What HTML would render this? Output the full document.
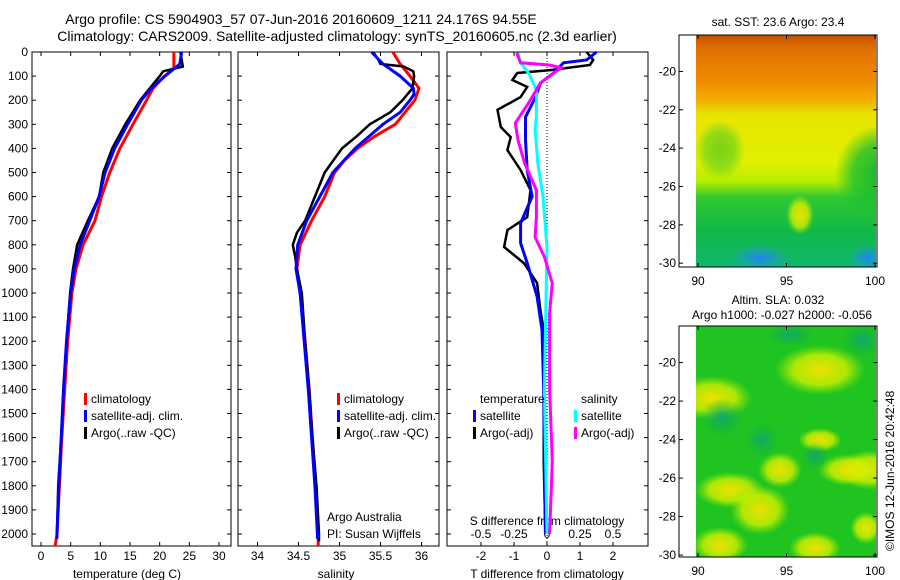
<!DOCTYPE html>
<html><head><meta charset="utf-8"><style>
body{margin:0;background:#fff;}
#root{position:relative;width:900px;height:580px;overflow:hidden;font-family:"Liberation Sans",sans-serif;}
svg text{font-family:"Liberation Sans",sans-serif;}
</style></head><body>
<div id="root">
<svg id="svg" width="900" height="580" xmlns="http://www.w3.org/2000/svg">
<defs>
<clipPath id="clip1"><rect x="696" y="35" width="180" height="232"/></clipPath>
<clipPath id="clip2"><rect x="696" y="326" width="180" height="231"/></clipPath>
<linearGradient id="sstV" x1="0" y1="0" x2="0" y2="1">
<stop offset="0" stop-color="#c85000"/><stop offset="0.06" stop-color="#e07000"/>
<stop offset="0.20" stop-color="#f08c00"/><stop offset="0.28" stop-color="#f2ac00"/>
<stop offset="0.34" stop-color="#e8e400"/><stop offset="0.55" stop-color="#e0f000"/>
<stop offset="0.63" stop-color="#b8ee00"/><stop offset="0.70" stop-color="#30c830"/>
<stop offset="0.85" stop-color="#10b848"/><stop offset="1" stop-color="#10b870"/>
</linearGradient>
<radialGradient id="grn" cx="0.5" cy="0.5" r="0.5"><stop offset="0" stop-color="#10b830"/><stop offset="0.6" stop-color="#20c030" stop-opacity="0.8"/><stop offset="1" stop-color="#20c030" stop-opacity="0"/></radialGradient>
<radialGradient id="blu" cx="0.5" cy="0.5" r="0.5"><stop offset="0" stop-color="#2080f0"/><stop offset="1" stop-color="#20a0e0" stop-opacity="0"/></radialGradient>
<radialGradient id="yel" cx="0.5" cy="0.5" r="0.5"><stop offset="0" stop-color="#f0e000"/><stop offset="0.6" stop-color="#d0f000" stop-opacity="0.8"/><stop offset="1" stop-color="#a0e800" stop-opacity="0"/></radialGradient>
<radialGradient id="dkg" cx="0.5" cy="0.5" r="0.5"><stop offset="0" stop-color="#10a870"/><stop offset="1" stop-color="#10b040" stop-opacity="0"/></radialGradient>
</defs>
<g id="maps"></g>
<g id="plots"></g>
</svg>
</div>
<script>
// ---------- data ----------
const depthTicks=[0,100,200,300,400,500,600,700,800,900,1000,1100,1200,1300,1400,1500,1600,1700,1800,1900,2000];
const tTicks=[0,5,10,15,20,25,30];
const sTicks=[34,34.5,35,35.5,36];
const dTTicks=[-2,-1,0,1,2];
const dSTicks=[-0.5,-0.25,0,0.25,0.5];
const dSTickLabels=['-0.5','-0.25','0','0.25','0.5'];
const latTicks=[-20,-22,-24,-26,-28,-30];
const lonTicks=[90,95,100];

const tClimDepth=[0,70,100,150,200,300,400,500,600,700,800,900,1000,1200,1400,1600,1800,2000,2050];
const tClim=[22.4,22.4,20.8,18.9,17.8,15.5,13.3,11.6,10.2,9.1,7.1,5.9,5.2,4.5,4.0,3.5,3.1,2.7,2.4];
const tSatDepth=[0,50,100,150,200,300,400,500,600,700,800,900,1000,1200,1400,1600,1800,2000,2020];
const tSat=[23.7,23.4,20.9,18.6,16.9,14.6,12.4,10.8,9.8,8.2,6.6,5.6,5.0,4.3,3.8,3.4,3.0,2.7,2.7];
const tArgoDepth=[0,60,80,100,200,300,400,500,600,700,800,900,1000,1200,1400,1600,1800,2000];
const tArgo=[23.5,23.9,20.6,20.0,16.7,14.2,12.0,10.5,9.8,7.9,6.1,5.4,4.9,4.3,3.8,3.4,2.9,2.7];

const sClimDepth=[0,50,100,150,200,250,300,350,400,450,500,600,700,800,900,1000,1200,1400,1600,1800,2000,2050];
const sClim=[35.65,35.74,35.86,35.97,35.92,35.8,35.68,35.43,35.22,35.06,34.94,34.82,34.66,34.52,34.48,34.52,34.58,34.63,34.67,34.71,34.74,34.74];
const sSatDepth=[0,50,100,150,175,200,250,300,400,500,600,700,800,900,1000,1200,1400,1600,1800,2000,2020];
const sSat=[35.39,35.53,35.74,35.9,35.91,35.86,35.74,35.53,35.19,34.92,34.76,34.6,34.49,34.47,34.52,34.57,34.62,34.66,34.70,34.73,34.73];
const sArgoDepth=[0,30,50,60,80,100,150,200,250,300,350,400,500,600,700,750,800,850,900,1000,1200,1400,1600,1800,2000,2030];
const sArgo=[35.41,35.47,35.5,35.78,35.9,35.91,35.89,35.77,35.62,35.37,35.21,35.03,34.82,34.7,34.58,34.48,34.43,34.46,34.48,34.54,34.58,34.63,34.67,34.72,34.75,34.75];

const dTArgoDepth=[0,33,54,75,87,116,145,187,240,311,353,407,490,573,685,739,809,876,959,1071,1153,1400,1700,2000];
const dTArgo=[1.2,1.4,1.3,0.1,-0.9,-1.05,-0.6,-0.8,-1.5,-1.4,-1.1,-1.2,-0.8,-0.5,-0.6,-1.2,-1.3,-0.7,-0.3,-0.2,-0.1,-0.1,-0.1,-0.05];
const dTSatDepth=[0,33,45,87,129,187,270,365,490,600,710,793,876,1015,1153,1400,1700,2000];
const dTSat=[1.5,1.2,0.5,0.2,-0.2,-0.35,-0.65,-0.65,-0.6,-0.45,-0.8,-0.8,-0.6,-0.3,-0.15,-0.1,-0.08,-0.05];
const dSArgoDepth=[4,45,54,66,87,129,212,295,365,461,573,685,768,850,959,1083,1400,1700,2000];
const dSArgo=[-0.23,-0.2,0.02,0.11,0.05,-0.05,-0.14,-0.24,-0.22,-0.17,-0.08,-0.08,-0.09,-0.02,0.04,0.02,0.02,0.04,0.02];
const dSSatDepth=[4,45,87,157,270,323,461,600,809,1100,1400,1700,2000];
const dSSat=[-0.22,-0.2,-0.14,-0.08,-0.08,-0.09,-0.07,-0.03,0,-0.01,-0.02,-0.01,0];

// ---------- helpers ----------
const NS='http://www.w3.org/2000/svg';
const plots=document.getElementById('plots');
function mk(tag,attrs,parent){const e=document.createElementNS(NS,tag);for(const k in attrs)e.setAttribute(k,attrs[k]);(parent||plots).appendChild(e);return e;}
const yTop=52,yBot=546;
const yD=d=>yTop+d*0.241;
function lin(v0,p0,v1,p1){return v=>p0+(v-v0)*(p1-p0)/(v1-v0);}
const xT=lin(0,41,30,219);
const xS=lin(34,257.5,36,421.5);
const xDT=lin(0,547,1,580);
const xDS=lin(0,547,0.25,580);

function txt(x,y,s,anchor,size,name,parent){const t=mk('text',{x:x,y:y,'font-size':size||12,'text-anchor':anchor||'start',fill:'#000'},parent);t.textContent=s;


return t;}

function frame(x0,x1,name){const r=mk('rect',{x:x0,y:yTop,width:x1-x0,height:yBot-yTop,fill:'none',stroke:'#000','stroke-width':1});


depthTicks.forEach(d=>{mk('line',{x1:x0,x2:x0+4,y1:yD(d),y2:yD(d),stroke:'#000'});mk('line',{x1:x1,x2:x1-4,y1:yD(d),y2:yD(d),stroke:'#000'});});}

function series(xs,ys,xf,color,w,name){const pts=xs.map((v,i)=>xf(v).toFixed(1)+','+yD(ys[i]).toFixed(1)).join(' ');
const p=mk('polyline',{points:pts,fill:'none',stroke:color,'stroke-width':w,'stroke-linejoin':'miter'});

}

function xAxis(ticks,labels,xf,x0,x1,ly,name){ticks.forEach((v,i)=>{const x=xf(v);mk('line',{x1:x,x2:x,y1:yBot,y2:yBot-4,stroke:'#000'});mk('line',{x1:x,x2:x,y1:yTop,y2:yTop+4,stroke:'#000'});txt(x,ly,labels[i],'middle',12,name+'-tick-label');});}

// titles
txt(301,24,'Argo profile: CS 5904903_57 07-Jun-2016 20160609_1211 24.176S 94.55E','middle',14,'figure-title-line1');
txt(337,41,'Climatology: CARS2009. Satellite-adjusted climatology: synTS_20160605.nc (2.3d earlier)','middle',14,'figure-title-line2');

// panel 1 temperature
frame(32,231,'temperature-panel');
depthTicks.forEach(d=>txt(28,yD(d)+4,String(d),'end',12,'depth-tick-label'));
xAxis(tTicks,tTicks.map(String),xT,32,231,560,'temperature-x');
txt(127,578,'temperature (deg C)','middle',12,'temperature-axis-title');
series(tClim,tClimDepth,xT,'#ff0000',3,'temperature-climatology-line');
series(tArgo,tArgoDepth,xT,'#000000',2.5,'temperature-argo-line');
series(tSat,tSatDepth,xT,'#0000ff',3,'temperature-satellite-line');

// panel 2 salinity
frame(238,439,'salinity-panel');
xAxis(sTicks,['34','34.5','35','35.5','36'],xS,238,439,560,'salinity-x');
txt(336,578,'salinity','middle',12,'salinity-axis-title');
series(sClim,sClimDepth,xS,'#ff0000',3,'salinity-climatology-line');
series(sArgo,sArgoDepth,xS,'#000000',2.5,'salinity-argo-line');
series(sSat,sSatDepth,xS,'#0000ff',3,'salinity-satellite-line');

// legends
function legend(x,y,items,name){const g=mk('g',{});
items.forEach((it,i)=>{mk('rect',{x:x,y:y+i*17-10,width:3,height:12,fill:it[0]},g);txt(x+7,y+i*17,it[1],'start',12,'legend-entry',g);});}
const legItems=[['#ff0000','climatology'],['#0000ff','satellite-adj. clim.'],['#000000','Argo(..raw -QC)']];
legend(84,403,legItems,'temperature-legend');
legend(337,403,legItems,'salinity-legend');
txt(327,521,'Argo Australia','start',12,'operator-label');
txt(327,538,'PI: Susan Wijffels','start',12,'pi-label');

// panel 3 differences
frame(447,648,'difference-panel');
const dz=mk('line',{x1:547,x2:547,y1:yTop,y2:yBot,stroke:'#000','stroke-dasharray':'1,2'});


xAxis(dTTicks,dTTicks.map(String),xDT,447,648,560,'t-difference-x');
dSTicks.forEach((v,i)=>txt(xDS(v),538,dSTickLabels[i],'middle',12,'s-difference-tick-label'));
txt(547,525,'S difference from climatology','middle',12,'s-difference-axis-title');
txt(547,578,'T difference from climatology','middle',12,'t-difference-axis-title');
series(dTArgo,dTArgoDepth,xDT,'#000000',2.5,'t-difference-argo-line');
series(dTSat,dTSatDepth,xDT,'#0000ff',3,'t-difference-satellite-line');
series(dSSat,dSSatDepth,xDS,'#00ffff',3,'s-difference-satellite-line');
series(dSArgo,dSArgoDepth,xDS,'#ff00ff',3,'s-difference-argo-line');
txt(480,403,'temperature','start',12,'diff-legend-temperature-heading');
txt(581,403,'salinity','start',12,'diff-legend-salinity-heading');
legend(473,420,[['#0000ff','satellite'],['#000000','Argo(-adj)']],'t-difference-legend');
legend(574,420,[['#00ffff','satellite'],['#ff00ff','Argo(-adj)']],'s-difference-legend');

// ---------- maps ----------
const maps=document.getElementById('maps');
function map(y0,y1,latTop,latBot,title1,title2,name,clip,fill){
  const g=mk('g',{},maps);
  const fg=mk('g',{'clip-path':'url(#'+clip+')'},g);
  fill(fg,y0,y1);
  mk('rect',{x:679,y:y0,width:198,height:y1-y0,fill:'none',stroke:'#000'},g);
  const yl=lin(latTop,y0,latBot,y1), xl=lin(90,698,100,875);
  latTicks.forEach(l=>{const y=yl(l);mk('line',{x1:679,x2:683,y1:y,y2:y,stroke:'#000'},g);mk('line',{x1:877,x2:873,y1:y,y2:y,stroke:'#000'},g);txt(676,y+4,String(l),'end',12,'latitude-tick-label',g);});
  lonTicks.forEach(l=>{const x=xl(l);mk('line',{x1:x,x2:x,y1:y1,y2:y1-4,stroke:'#000'},g);mk('line',{x1:x,x2:x,y1:y0,y2:y0+4,stroke:'#000'},g);txt(x,y1+18,String(l),'middle',12,'longitude-tick-label',g);});
  if(title2){txt(778,y0-22,title1,'middle',12,'map-title',g);txt(782,y0-7,title2,'middle',12,'map-subtitle',g);}
  else txt(778,y0-9,title1,'middle',12,'map-title',g);
}
map(35,267,-18.1,-30.2,'sat. SST: 23.6 Argo: 23.4',null,'sst-map','clip1',(g,y0,y1)=>{
  mk('rect',{x:696,y:y0,width:180,height:y1-y0,fill:'url(#sstV)'},g);
  mk('ellipse',{cx:880,cy:175,rx:45,ry:50,fill:'url(#grn)'},g);
  mk('ellipse',{cx:720,cy:150,rx:25,ry:30,fill:'url(#grn)',opacity:0.5},g);
  mk('ellipse',{cx:800,cy:215,rx:14,ry:20,fill:'url(#yel)'},g);
  mk('ellipse',{cx:760,cy:258,rx:30,ry:14,fill:'url(#blu)'},g);
  mk('ellipse',{cx:868,cy:258,rx:20,ry:14,fill:'url(#blu)'},g);
});
map(326,557,-18.1,-30.1,'Altim. SLA: 0.032','Argo h1000: -0.027 h2000: -0.056','sla-map','clip2',(g,y0,y1)=>{
  mk('rect',{x:696,y:y0,width:180,height:y1-y0,fill:'#20c420'},g);
  [[712,398,40,22],[820,370,45,25],[730,490,35,18],[870,470,30,20],[848,470,30,16],[780,470,22,18],[720,545,28,18],[760,510,30,25],[815,548,26,16],[866,528,16,16],[820,440,22,12]].forEach(b=>mk('ellipse',{cx:b[0],cy:b[1],rx:b[2],ry:b[3],fill:'url(#yel)'},g));
  [[722,418,22,20],[790,335,25,12],[762,440,18,18],[815,456,14,14],[862,340,22,18]].forEach(b=>mk('ellipse',{cx:b[0],cy:b[1],rx:b[2],ry:b[3],fill:'url(#dkg)'},g));
});
const cp=txt(0,0,'©IMOS 12-Jun-2016 20:42:48','start',12,'copyright-timestamp',maps);
cp.setAttribute('transform','translate(894,551) rotate(-90)');
</script>
</body></html>
